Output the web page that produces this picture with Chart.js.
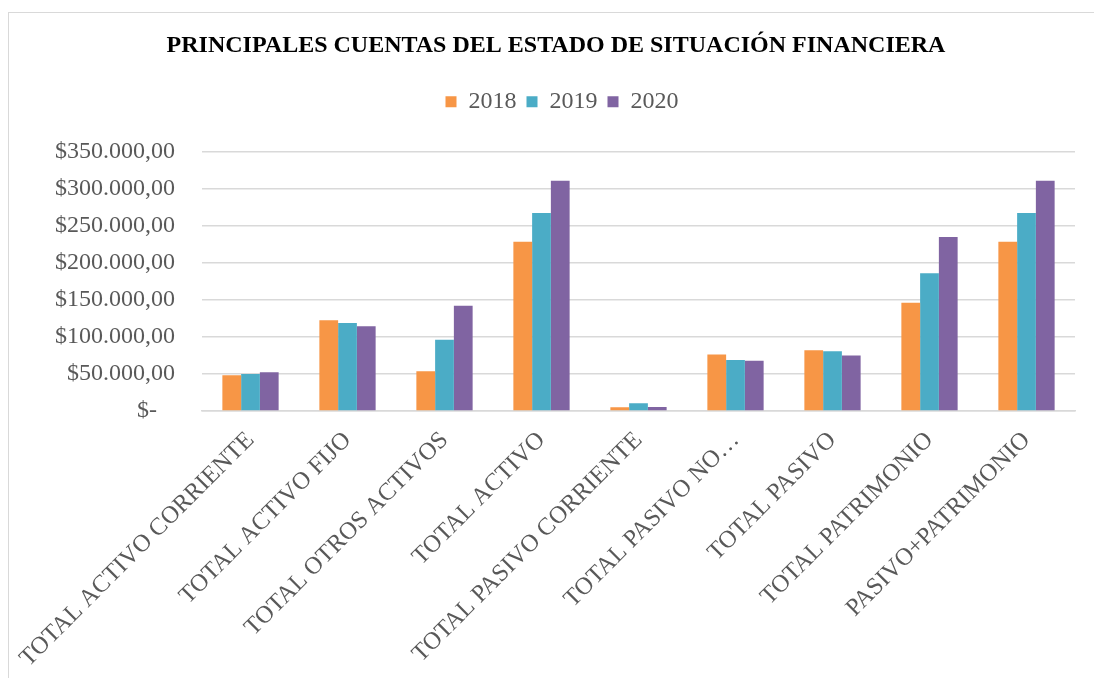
<!DOCTYPE html>
<html>
<head>
<meta charset="utf-8">
<script src="https://cdn.jsdelivr.net/npm/chart.js@4.4.1/dist/chart.umd.min.js"></script>
<style>
  html, body { margin: 0; padding: 0; background: #fff; overflow: hidden; }
  #frame {
    position: absolute; left: 8px; top: 12px;
    width: 1100px; height: 680px;
    border: 1px solid #d9d9d9;
  }
  #wrap { position: absolute; left: 0; top: 0; width: 1085px; height: 665px; }
</style>
</head>
<body>
<div id="frame">
  <div id="wrap"><canvas id="barChart"></canvas></div>
</div>
<script>
  // Datos
  const cuentas = ['TOTAL ACTIVO CORRIENTE', 'TOTAL ACTIVO FIJO', 'TOTAL OTROS ACTIVOS', 'TOTAL ACTIVO',
    'TOTAL PASIVO CORRIENTE', 'TOTAL PASIVO NO CORRIENTE', 'TOTAL PASIVO', 'TOTAL PATRIMONIO', 'PASIVO+PATRIMONIO'];
  const valores2018 = [48300, 122700, 53700, 228700, 5000, 76300, 82100, 146100, 228700];
  const valores2019 = [50100, 118700, 96100, 267500, 10400, 69000, 80800, 185900, 267500];
  const valores2020 = [52400, 114600, 142100, 310800, 5400, 67700, 75000, 235000, 310800];
  const ticksY = [0, 50000, 100000, 150000, 200000, 250000, 300000, 350000];

  const serif = "'Liberation Serif', 'Times New Roman', serif";
  const gris = '#595959';

  function moneda(v) {
    if (v === 0) return '$-   ';
    return '$' + v.toString().replace(/\B(?=(\d{3})+(?!\d))/g, '.') + ',00';
  }

  // espacio extra bajo la leyenda + titulo/leyenda un poco a la derecha
  const ajustes = {
    id: 'ajustes',
    beforeInit(chart) {
      const fit = chart.legend.fit;
      chart.legend.fit = function () {
        fit.bind(chart.legend)();
        this.height += 28;
      };
    },
    afterLayout(chart) {
      chart.legend.left += 20;
      chart.legend.right += 20;
      chart.titleBlock.left += 14;
      chart.titleBlock.right += 14;
    }
  };

  new Chart(document.getElementById('barChart'), {
    type: 'bar',
    data: {
      labels: cuentas,
      datasets: [
        { label: '2018', data: valores2018, backgroundColor: '#F79646' },
        { label: '2019', data: valores2019, backgroundColor: '#4BACC6' },
        { label: '2020', data: valores2020, backgroundColor: '#8064A2' }
      ]
    },
    options: {
      responsive: true,
      maintainAspectRatio: false,
      animation: false,
      datasets: { bar: { barPercentage: 1, categoryPercentage: 0.58 } },
      layout: { padding: { left: 0, right: 19, bottom: 0 } },
      plugins: {
        title: {
          display: true,
          text: 'PRINCIPALES CUENTAS DEL ESTADO DE SITUACIÓN FINANCIERA',
          color: '#000',
          font: { family: serif, size: 24, weight: 'bold' },
          padding: { top: 18, bottom: 20 }
        },
        legend: {
          position: 'top',
          labels: {
            color: gris,
            boxWidth: 11,
            boxHeight: 11,
            padding: 10,
            font: { family: serif, size: 24 }
          }
        },
        tooltip: { enabled: false }
      },
      scales: {
        x: {
          afterFit: axis => {
            axis.height = 267;
            axis.paddingLeft = 0;
            axis.paddingRight = 0;
          },
          grid: { display: false, drawTicks: false },
          border: { color: '#d9d9d9', width: 1.5 },
          ticks: {
            color: gris,
            autoSkip: false,
            minRotation: 45,
            maxRotation: 45,
            padding: 15,
            font: { family: serif, size: 24.5 },
            callback: function (value) {
              const t = this.getLabelForValue(value);
              return t === 'TOTAL PASIVO NO CORRIENTE' ? 'TOTAL PASIVO NO…' : t;
            }
          }
        },
        y: {
          min: 0,
          max: 350000,
          afterBuildTicks: axis => { axis.ticks = ticksY.map(v => ({ value: v })); },
          afterFit: axis => { axis.width = 193; },
          grid: { color: '#d9d9d9', lineWidth: 1.5, drawTicks: false },
          border: { display: false },
          ticks: {
            color: gris,
            padding: 27,
            font: { family: serif, size: 24 },
            callback: v => moneda(v)
          }
        }
      }
    },
    plugins: [ajustes]
  });
</script>
</body>
</html>
